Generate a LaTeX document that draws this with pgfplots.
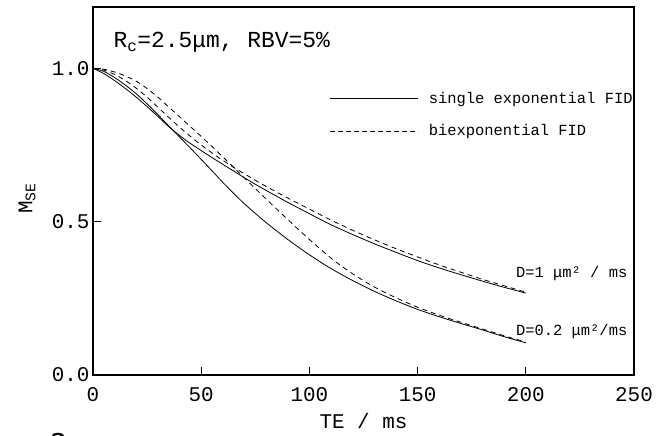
\documentclass[border=0pt]{standalone}
\usepackage{fontspec}
\setmainfont{Liberation Mono}
\usepackage{pgfplots}
\usepackage{pgfplotstable}
\pgfplotsset{compat=1.18}
\pgfplotstableread{
TE S1 D1 S2 D2
0 1.000 1.000 1.000 1.000
5 0.983 0.994 0.990 0.997
10 0.960 0.980 0.970 0.988
15 0.934 0.960 0.945 0.975
20 0.906 0.935 0.917 0.958
25 0.875 0.906 0.884 0.934
30 0.843 0.873 0.849 0.906
35 0.810 0.840 0.812 0.874
40 0.781 0.808 0.776 0.842
45 0.755 0.778 0.740 0.810
50 0.732 0.750 0.703 0.778
55 0.709 0.724 0.666 0.745
60 0.687 0.700 0.628 0.711
65 0.665 0.677 0.592 0.677
70 0.643 0.656 0.558 0.642
75 0.622 0.635 0.527 0.608
80 0.602 0.615 0.497 0.574
90 0.563 0.577 0.442 0.507
100 0.526 0.541 0.392 0.442
110 0.490 0.505 0.347 0.381
120 0.458 0.472 0.308 0.330
130 0.428 0.441 0.273 0.287
140 0.400 0.412 0.242 0.252
150 0.373 0.385 0.214 0.221
160 0.349 0.359 0.190 0.195
170 0.327 0.335 0.168 0.172
180 0.306 0.312 0.147 0.150
190 0.286 0.291 0.125 0.128
200 0.267 0.270 0.105 0.107
}\datatab
\begin{document}
\begin{tikzpicture}
\useasboundingbox (-93bp,-61bp) rectangle (579bp,375bp);
\begin{axis}[
  scale only axis, width=541bp, height=368bp,
  xmin=0, xmax=250, ymin=0, ymax=1.2,
  axis line style={line width=1.1bp},
  xtick={0,50,100,150,200,250}, ytick={0,0.5,1.0},
  xtick pos=left, ytick pos=left, tick align=inside,
  major tick length=8bp,
  tick style={line width=0.8bp, black},
  yticklabel style={/pgf/number format/.cd, fixed, fixed zerofill, precision=1},
  xticklabel style={yshift=-9bp},
  /pgf/number format/assume math mode=true,
  ticklabel style={font=\fontsize{21}{24}\selectfont},
  xlabel={TE / ms},
  xlabel style={font=\fontsize{21}{24}\selectfont, at={(axis description cs:0.5,0)}, anchor=base, yshift=-53bp},
  ylabel={M\textsubscript{SE}},
  ylabel style={font=\fontsize{21}{24}\selectfont, at={([xshift=-66bp]axis description cs:0,0.48)}, anchor=center},
  legend style={draw=none, fill=none, at={(0.438,0.775)}, anchor=north west,
    font=\fontsize{15.5}{18}\selectfont, inner sep=0pt, row sep=16bp,
    /tikz/every odd column/.append style={column sep=8bp}},
  legend cell align=left,
  legend image code/.code={\draw[#1] (0bp,0bp) -- (88bp,0bp);},
]
\addlegendimage{black, line width=0.6bp}
\addlegendentry{single exponential FID}
\addlegendimage{black, line width=0.6bp, dash pattern=on 5bp off 3bp}
\addlegendentry{biexponential FID}
\addplot[black, line width=0.8bp, smooth, forget plot] table[x=TE, y=S1] {\datatab};
\addplot[black, line width=0.8bp, smooth, dash pattern=on 5bp off 4bp, forget plot] table[x=TE, y=D1] {\datatab};
\addplot[black, line width=0.8bp, smooth, forget plot] table[x=TE, y=S2] {\datatab};
\addplot[black, line width=0.8bp, smooth, dash pattern=on 5bp off 4bp, forget plot] table[x=TE, y=D2] {\datatab};
\node[anchor=base west, font=\fontsize{23}{26}\selectfont] at (axis cs:7.9,1.068) {R\textsubscript{c}=2.5μm, RBV=5\%};
\node[anchor=base east, font=\fontsize{15.5}{18}\selectfont, inner sep=0pt] at (axis cs:247,0.319) {D=1 μm² / ms};
\node[anchor=base east, font=\fontsize{15.5}{18}\selectfont, inner sep=0pt] at (axis cs:247,0.130) {D=0.2 μm²/ms};
\end{axis}
\node[anchor=north west, inner sep=0pt, font=\bfseries\sffamily\fontsize{30}{30}\selectfont] at (-43bp,-58bp) {a};
\end{tikzpicture}
\end{document}
